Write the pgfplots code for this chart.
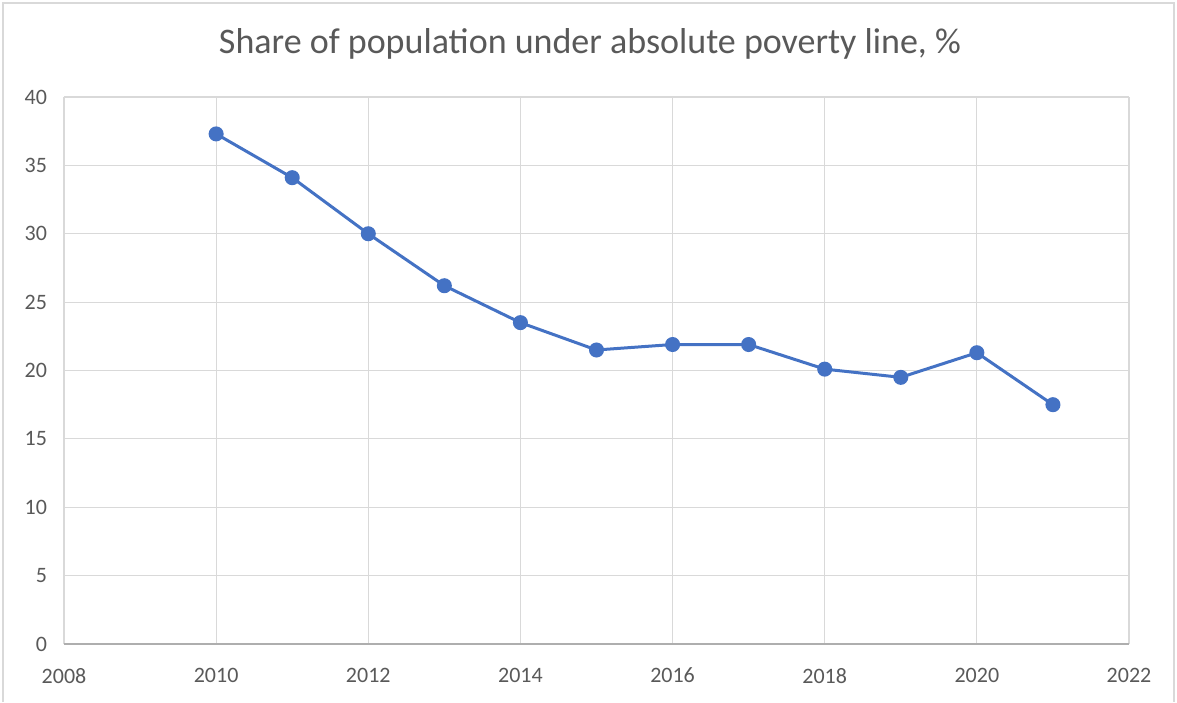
\documentclass[border=0pt]{standalone}
\usepackage{pgfplots}
\pgfplotsset{compat=1.18}
\usepackage{fontspec}
\setmainfont{Carlito}
\definecolor{excelblue}{HTML}{4472C4}
\definecolor{txtgray}{HTML}{595959}
\definecolor{gridgray}{HTML}{D9D9D9}
\begin{document}
\begin{tikzpicture}[x=1pt,y=1pt]
\path[use as bounding box] (0,0) rectangle (588.5,351);
\draw[gridgray, line width=0.6pt] (1.5,0) -- (1.5,349.5) -- (587,349.5) -- (587,0);
\node[text=txtgray, font=\fontsize{18}{20}\selectfont] at (295,329) {Share of population under absolute poverty line, \%};
\begin{axis}[
  at={(32pt,29pt)}, anchor=south west,
  scale only axis, width=532.5pt, height=273.5pt,
  xmin=2008, xmax=2022, ymin=0, ymax=40,
  xtick={2008,2010,...,2022}, ytick={0,5,...,40},
  grid=major, major grid style={gridgray, line width=0.6pt},
  axis lines*=left,
  y axis line style={draw=none},
  x axis line style={color=gridgray!80!black, line width=0.6pt},
  major tick length=0pt,
  tick label style={text=txtgray, font=\fontsize{11}{12}\selectfont},
  /pgf/number format/assume math mode=true,
  /pgf/number format/1000 sep={},
  xticklabel style={yshift=-8.5pt},
  yticklabel style={xshift=-5pt},
  clip=false,
]
\addplot[excelblue, line width=1.5pt, mark=*, mark size=3pt, mark options={fill=excelblue, draw=excelblue}] coordinates {
(2010,37.3) (2011,34.1) (2012,30.0) (2013,26.2) (2014,23.5) (2015,21.5)
(2016,21.9) (2017,21.9) (2018,20.1) (2019,19.5) (2020,21.3) (2021,17.5)
};
\end{axis}
\end{tikzpicture}
\end{document}
